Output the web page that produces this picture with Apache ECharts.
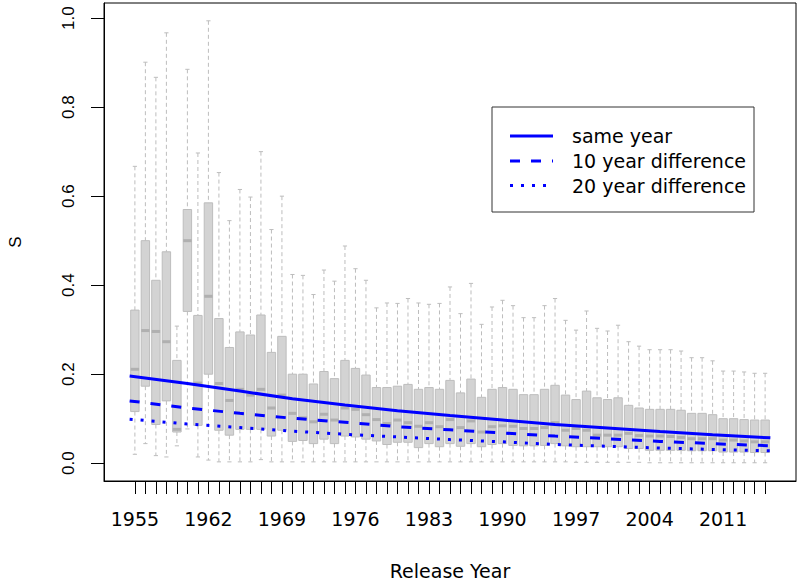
<!DOCTYPE html>
<html>
<head>
<meta charset="utf-8">
<script src="https://cdn.jsdelivr.net/npm/echarts@6/dist/echarts.min.js"></script>
<style>html,body{margin:0;padding:0;background:#fff}#c{width:800px;height:585px}</style>
</head>
<body>
<div id="c"></div>
<script>
// ---- data ----
const years = [1955,1956,1957,1958,1959,1960,1961,1962,1963,1964,1965,1966,1967,1968,1969,1970,1971,1972,1973,1974,1975,1976,1977,1978,1979,1980,1981,1982,1983,1984,1985,1986,1987,1988,1989,1990,1991,1992,1993,1994,1995,1996,1997,1998,1999,2000,2001,2002,2003,2004,2005,2006,2007,2008,2009,2010,2011,2012,2013,2014,2015];
const labelYears = [1955,1962,1969,1976,1983,1990,1997,2004,2011];
const lowerWhisker = [0.020,0.044,0.017,0.014,0.039,0.077,0.014,0.007,0.003,0.003,0.003,0.003,0.008,0.003,0.003,0.003,0.003,0.003,0.003,0.003,0.003,0.003,0.003,0.003,0.003,0.003,0.003,0.003,0.003,0.003,0.003,0.003,0.003,0.003,0.003,0.003,0.003,0.003,0.003,0.003,0.003,0.003,0.002,0.002,0.002,0.002,0.002,0.002,0.002,0.001,0.001,0.001,0.001,0.001,0.001,0.001,0.001,0.001,0.001,0.001,0.001];
const q1 = [0.116,0.173,0.087,0.140,0.070,0.341,0.085,0.200,0.074,0.063,0.076,0.076,0.076,0.061,0.074,0.049,0.051,0.044,0.054,0.044,0.061,0.059,0.054,0.050,0.042,0.047,0.047,0.035,0.044,0.037,0.044,0.038,0.044,0.037,0.042,0.044,0.040,0.039,0.039,0.040,0.044,0.039,0.037,0.037,0.037,0.037,0.037,0.033,0.033,0.029,0.029,0.029,0.029,0.028,0.028,0.028,0.025,0.025,0.025,0.024,0.024];
const median = [0.211,0.298,0.296,0.273,0.076,0.500,0.180,0.375,0.179,0.141,0.166,0.153,0.166,0.124,0.153,0.112,0.102,0.093,0.110,0.097,0.124,0.121,0.109,0.098,0.089,0.097,0.091,0.083,0.091,0.082,0.098,0.080,0.095,0.070,0.082,0.084,0.083,0.078,0.078,0.080,0.091,0.074,0.078,0.074,0.063,0.063,0.063,0.067,0.062,0.061,0.061,0.060,0.058,0.055,0.055,0.055,0.052,0.052,0.050,0.048,0.048];
const q3 = [0.344,0.500,0.411,0.475,0.231,0.570,0.332,0.585,0.325,0.260,0.295,0.288,0.333,0.249,0.285,0.200,0.200,0.178,0.206,0.190,0.231,0.213,0.198,0.170,0.170,0.173,0.177,0.166,0.170,0.166,0.186,0.158,0.189,0.148,0.166,0.170,0.166,0.154,0.154,0.166,0.175,0.153,0.143,0.162,0.147,0.143,0.147,0.130,0.124,0.121,0.121,0.121,0.119,0.112,0.112,0.109,0.100,0.100,0.098,0.097,0.097];
const upperWhisker = [0.667,0.901,0.867,0.967,0.308,0.885,0.697,0.994,0.653,0.545,0.615,0.598,0.700,0.525,0.600,0.424,0.422,0.379,0.434,0.409,0.488,0.437,0.411,0.349,0.360,0.359,0.370,0.360,0.357,0.359,0.396,0.336,0.404,0.312,0.351,0.366,0.354,0.327,0.327,0.354,0.370,0.321,0.299,0.342,0.303,0.297,0.310,0.273,0.263,0.255,0.255,0.255,0.252,0.237,0.237,0.230,0.207,0.207,0.205,0.202,0.202];

const curveX = [1954.5,1960,1965,1970,1975,1980,1985,1990,1995,2000,2005,2010,2015.5];
const sameYear = [0.196,0.179,0.162,0.145,0.131,0.118,0.107,0.097,0.087,0.079,0.071,0.064,0.057];
const diff10 = [0.140,0.124,0.112,0.101,0.092,0.082,0.075,0.068,0.061,0.055,0.049,0.044,0.039];
const diff20 = [0.099,0.088,0.080,0.072,0.065,0.059,0.053,0.048,0.042,0.038,0.034,0.031,0.028];

const yTicks = [0,0.2,0.4,0.6,0.8,1.0];
const legendNames = ['same year','10 year difference','20 year difference'];

// ---- build ----
const boxData = years.map((y,i)=>[y, lowerWhisker[i], q1[i], median[i], q3[i], upperWhisker[i]]);
const pairs = arr => curveX.map((x,i)=>[x, arr[i]]);

const HFONT = 'DejaVu Sans';
const VFONT = 'Liberation Sans';

function renderBox(params, api) {
  const x = api.value(0);
  const pLo = api.coord([x, api.value(1)]);
  const pQ1 = api.coord([x, api.value(2)]);
  const pMd = api.coord([x, api.value(3)]);
  const pQ3 = api.coord([x, api.value(4)]);
  const pHi = api.coord([x, api.value(5)]);
  const bw = api.size([0.8, 0])[0];
  const cx = pMd[0];
  const sw = bw * 0.25;
  const whisker = {stroke: '#bdbdbd', lineWidth: 1, lineDash: [4, 3], fill: null};
  const solid = {stroke: '#bdbdbd', lineWidth: 1, fill: null};
  return {type: 'group', children: [
    {type: 'line', shape: {x1: cx, y1: pHi[1], x2: cx, y2: pQ3[1]}, style: whisker},
    {type: 'line', shape: {x1: cx, y1: pQ1[1], x2: cx, y2: pLo[1]}, style: whisker},
    {type: 'line', shape: {x1: cx - sw, y1: pHi[1], x2: cx + sw, y2: pHi[1]}, style: solid},
    {type: 'line', shape: {x1: cx - sw, y1: pLo[1], x2: cx + sw, y2: pLo[1]}, style: solid},
    {type: 'rect', shape: {x: cx - bw/2, y: pQ3[1], width: bw, height: pQ1[1] - pQ3[1]}, style: {fill: '#d3d3d3', stroke: '#bdbdbd', lineWidth: 1}},
    {type: 'line', shape: {x1: cx - bw/2, y1: pMd[1], x2: cx + bw/2, y2: pMd[1]}, style: {stroke: '#b0b0b0', lineWidth: 3, fill: null}}
  ]};
}

const chart = echarts.init(document.getElementById('c'), null, {renderer: 'svg'});
const dashTypes = ['solid', [10, 11], [3, 8]];
const legendY = [136, 161, 185.5];

const option = {
  animation: false,
  backgroundColor: '#fff',
  grid: {left: 104, right: 4, top: 3, bottom: 104, show: true, borderColor: '#000', borderWidth: 1, backgroundColor: 'transparent', containLabel: false, outerBoundsMode: 'none'},
  xAxis: {
    type: 'value', min: 1952.06, max: 2017.94,
    axisLine: {show: true, onZero: false, lineStyle: {color: '#000', width: 1}},
    axisTick: {show: true, customValues: years, length: 13, inside: false, lineStyle: {color: '#000', width: 1}},
    axisLabel: {show: true, customValues: labelYears, fontFamily: HFONT, fontSize: 19, color: '#000', margin: 28,
      formatter: v => String(Math.round(v))},
    splitLine: {show: false},
    name: 'Release Year', nameLocation: 'middle', nameGap: 80,
    nameTextStyle: {fontFamily: HFONT, fontSize: 19, color: '#000'}
  },
  yAxis: {
    type: 'value', min: -0.04, max: 1.034,
    axisLine: {show: true, onZero: false, lineStyle: {color: '#000', width: 1}},
    axisTick: {show: true, customValues: yTicks, length: 13, inside: false, lineStyle: {color: '#000', width: 1}},
    axisLabel: {show: true, customValues: yTicks, rotate: 90, fontFamily: VFONT, fontSize: 17, color: '#000', margin: 27,
      formatter: v => Number(v).toFixed(1)},
    splitLine: {show: false},
    name: 'S', nameLocation: 'middle', nameGap: 80, nameRotate: 90,
    nameTextStyle: {fontFamily: VFONT, fontSize: 17, color: '#000'}
  },
  series: [
    {type: 'custom', name: 'S by year', renderItem: renderBox, data: boxData,
     encode: {x: 0, y: [1,2,3,4,5]}, z: 2, silent: true, clip: false},
    {type: 'line', name: legendNames[0], data: pairs(sameYear), smooth: false, showSymbol: false, z: 5,
     lineStyle: {color: '#0000ff', width: 3, type: dashTypes[0]}},
    {type: 'line', name: legendNames[1], data: pairs(diff10), smooth: false, showSymbol: false, z: 5,
     lineStyle: {color: '#0000ff', width: 3, type: dashTypes[1]}},
    {type: 'line', name: legendNames[2], data: pairs(diff20), smooth: false, showSymbol: false, z: 5,
     lineStyle: {color: '#0000ff', width: 3, type: dashTypes[2]}}
  ],
  graphic: [
    {type: 'rect', z: 100, shape: {x: 492, y: 107, width: 262, height: 105}, style: {fill: '#fff', stroke: '#333', lineWidth: 1}}
  ].concat(legendNames.map((n, i) => ({
    type: 'line', z: 101, shape: {x1: 510, y1: legendY[i], x2: 553, y2: legendY[i]},
    style: {stroke: '#0000ff', lineWidth: 3, lineDash: i === 0 ? null : dashTypes[i]}
  }))).concat(legendNames.map((n, i) => ({
    type: 'text', z: 101, x: 572, y: legendY[i],
    style: {text: n, font: '19px "DejaVu Sans"', fill: '#000', textVerticalAlign: 'middle', verticalAlign: 'middle'}
  })))
};
chart.setOption(option);
</script>
</body>
</html>
